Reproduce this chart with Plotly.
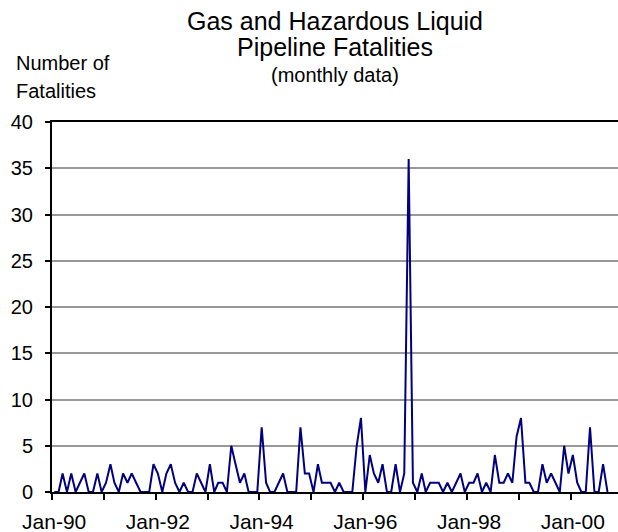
import pandas as pd
import plotly.graph_objects as go

# ---- data (monthly pipeline fatalities, Jan-1990 onward) ----
start_month = "1990-01-01"
fatalities = [
    0, 0, 2, 0, 2, 0, 1, 2, 0, 0, 2, 0,    # 1990
    1, 3, 1, 0, 2, 1, 2, 1, 0, 0, 0, 3,    # 1991
    2, 0, 2, 3, 1, 0, 1, 0, 0, 2, 1, 0,    # 1992
    3, 0, 1, 1, 0, 5, 3, 1, 2, 0, 0, 0,    # 1993
    7, 1, 0, 0, 1, 2, 0, 0, 0, 7, 2, 2,    # 1994
    0, 3, 1, 1, 1, 0, 1, 0, 0, 0, 5, 8,    # 1995
    0, 4, 2, 1, 3, 0, 0, 3, 0, 2, 36, 1,   # 1996
    0, 2, 0, 1, 1, 1, 0, 1, 0, 1, 2, 0,    # 1997
    1, 1, 2, 0, 1, 0, 4, 1, 1, 2, 1, 6,    # 1998
    8, 1, 1, 0, 0, 3, 1, 2, 1, 0, 5, 2,    # 1999
    4, 1, 0, 0, 7, 0, 0, 3, 0,             # 2000
]
label_years = [1990, 1992, 1994, 1996, 1998, 2000]
boundary_years = list(range(1989, 2000))
y_ticks = [0, 5, 10, 15, 20, 25, 30, 35, 40]

months = pd.date_range(start_month, periods=len(fatalities), freq="MS")

FONT = "Liberation Sans, Arial, sans-serif"

fig = go.Figure(
    go.Scatter(
        x=months,
        y=fatalities,
        mode="lines",
        line=dict(color="#000080", width=2),
        hoverinfo="x+y",
    )
)

fig.update_layout(
    width=618,
    height=532,
    margin=dict(l=52, r=0, t=122, b=40),
    paper_bgcolor="white",
    plot_bgcolor="white",
    showlegend=False,
    font=dict(family=FONT, color="black", size=20),
)

fig.update_xaxes(
    type="date",
    range=["1989-12-16 12:00", "2000-11-14"],
    tickvals=[pd.Timestamp(f"{y}-01-01") for y in label_years],
    tickformat="%b-%y",
    ticks="",
    tickfont=dict(size=21, family=FONT, color="black"),
    ticklabelstandoff=10,
    showline=True,
    linecolor="black",
    linewidth=2,
    mirror=True,
    showgrid=False,
    zeroline=False,
    automargin=False,
    minor=dict(
        tickvals=[pd.Timestamp(f"{y}-12-16 12:00") for y in boundary_years],
        ticks="outside",
        ticklen=6,
        tickwidth=2,
        tickcolor="black",
        showgrid=False,
    ),
)

fig.update_yaxes(
    range=[0, 40],
    tickvals=y_ticks,
    ticks="outside",
    ticklen=5,
    tickwidth=2,
    tickcolor="black",
    tickfont=dict(size=20, family=FONT, color="black"),
    ticklabelstandoff=8,
    showline=True,
    linecolor="black",
    linewidth=2,
    showgrid=True,
    gridcolor="#999999",
    gridwidth=1.5,
    zeroline=False,
    automargin=False,
)

annotations = [
    dict(text="Gas and Hazardous Liquid", x=0.5, y=1.2743, size=25),
    dict(text="Pipeline Fatalities", x=0.5, y=1.2040, size=25),
    dict(text="(monthly data)", x=0.5, y=1.1270, size=20),
]
for a in annotations:
    fig.add_annotation(
        text=a["text"], x=a["x"], y=a["y"], xref="paper", yref="paper",
        xanchor="center", yanchor="middle", showarrow=False,
        font=dict(size=a["size"], family=FONT, color="black"),
    )

for txt, yy in [("Number of", 1.1595), ("Fatalities", 1.0838)]:
    fig.add_annotation(
        text=txt, x=(14 - 52) / 566, y=yy, xref="paper", yref="paper",
        xanchor="left", yanchor="middle", showarrow=False,
        font=dict(size=20, family=FONT, color="black"),
    )

fig.write_html(
    "out.html",
    config={"displayModeBar": False},
    post_script="document.body.style.margin='0';document.body.style.overflow='hidden';",
)
